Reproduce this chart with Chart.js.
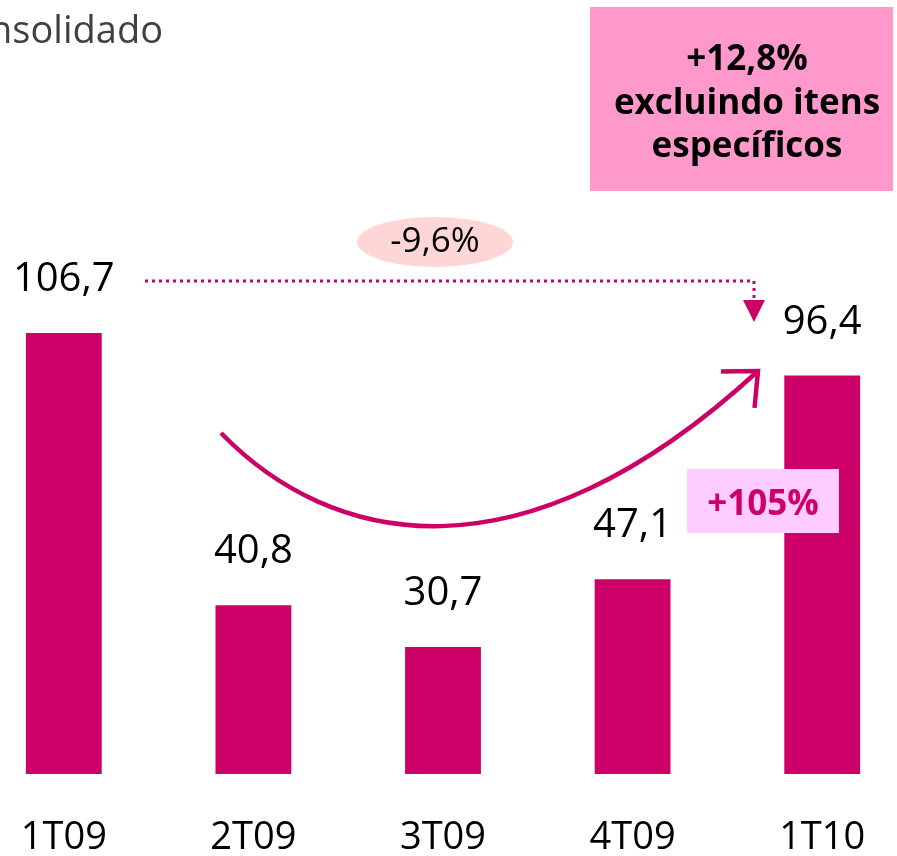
<!DOCTYPE html>
<html><head><meta charset="utf-8">
<script src="https://cdn.jsdelivr.net/npm/chart.js@4"></script>
<style>
html,body{margin:0;padding:0;background:#fff;overflow:hidden;width:897px;height:856px}
#wrap{position:absolute;left:-31px;top:0;width:948px;height:902px}
</style></head>
<body><div id="wrap"><canvas id="c" width="948" height="902"></canvas></div>
<script>
const categories = ['1T09', '2T09', '3T09', '4T09', '1T10'];
const values = [106.7, 40.8, 30.7, 47.1, 96.4];
const titleText = 'nsolidado';
const boxLines = ['+12,8%', 'excluindo itens', 'específicos'];
const changeYear = '-9,6%';
const changeQuarter = '+105%';

const OFF = 31; // canvas is shifted left by this many px
const MAGENTA = '#CC0066';

function fmt(v) { return v.toFixed(1).replace('.', ','); }

const annot = {
  id: 'annot',
  afterDatasetsDraw(chart) {
    const ctx = chart.ctx;
    ctx.save();
    ctx.translate(OFF, 0);
    // title
    ctx.fillStyle = '#404040';
    ctx.font = '38px "Open Sans"';
    ctx.textAlign = 'right';
    ctx.textBaseline = 'alphabetic';
    ctx.fillText(titleText, 163, 43);

    // top box
    ctx.fillStyle = '#FF99CC';
    ctx.fillRect(590, 7, 303, 184);
    ctx.fillStyle = '#000';
    ctx.font = 'bold 35px "Open Sans"';
    ctx.textAlign = 'center';
    const bl = [70, 114, 157];
    boxLines.forEach((t, i) => ctx.fillText(t, 747, bl[i]));

    // ellipse -9,6%
    ctx.fillStyle = '#FFD6D6';
    ctx.beginPath();
    ctx.ellipse(435, 242, 78, 25, 0, 0, Math.PI * 2);
    ctx.fill();
    ctx.fillStyle = '#000';
    ctx.font = '35px "Open Sans"';
    ctx.fillText(changeYear, 435, 252);

    // dotted connector
    ctx.strokeStyle = MAGENTA;
    ctx.lineWidth = 3;
    ctx.setLineDash([3, 4]);
    ctx.beginPath();
    ctx.moveTo(145, 281);
    ctx.lineTo(754, 281);
    ctx.lineTo(754, 300);
    ctx.stroke();
    ctx.setLineDash([]);
    ctx.fillStyle = MAGENTA;
    ctx.beginPath();
    ctx.moveTo(743, 300); ctx.lineTo(765, 300); ctx.lineTo(754, 322);
    ctx.closePath(); ctx.fill();

    // curve arrow
    const p0 = [221, 433], p1 = [330, 545], p2 = [520, 590], p3 = [758, 371];
    ctx.lineWidth = 4.5;
    ctx.strokeStyle = MAGENTA;
    ctx.beginPath();
    ctx.moveTo(p0[0], p0[1]);
    ctx.bezierCurveTo(p1[0], p1[1], p2[0], p2[1], p3[0], p3[1]);
    ctx.stroke();
    const back = Math.atan2(p2[1] - p3[1], p2[0] - p3[0]);
    const L = 37, a = 42 * Math.PI / 180;
    ctx.beginPath();
    ctx.moveTo(p3[0] + L * Math.cos(back - a), p3[1] + L * Math.sin(back - a));
    ctx.lineTo(p3[0], p3[1]);
    ctx.lineTo(p3[0] + L * Math.cos(back + a), p3[1] + L * Math.sin(back + a));
    ctx.lineJoin = 'miter';
    ctx.stroke();

    // +105% box
    ctx.fillStyle = '#FFCCFF';
    ctx.fillRect(687, 469, 152, 64);
    ctx.fillStyle = MAGENTA;
    ctx.font = 'bold 35px "Open Sans"';
    ctx.fillText(changeQuarter, 763, 515);
    ctx.restore();

    // value labels
    ctx.save();
    ctx.fillStyle = '#000';
    ctx.font = '40px "Open Sans"';
    ctx.textAlign = 'center';
    ctx.textBaseline = 'alphabetic';
    chart.getDatasetMeta(0).data.forEach((bar, i) => {
      ctx.fillText(fmt(values[i]), bar.x, bar.y - 42);
    });
    ctx.restore();
  }
};

new Chart(document.getElementById('c'), {
  type: 'bar',
  data: {
    labels: categories,
    datasets: [{
      data: values,
      backgroundColor: MAGENTA,
      borderWidth: 0,
      categoryPercentage: 1,
      barPercentage: 0.4
    }]
  },
  options: {
    responsive: false,
    animation: false,
    devicePixelRatio: 1,
    layout: { padding: { top: 30, bottom: 0, left: 0, right: 0 } },
    plugins: { legend: { display: false }, tooltip: { enabled: false } },
    scales: {
      x: {
        grid: { display: false, drawTicks: false },
        border: { display: false },
        ticks: {
          color: '#000',
          font: { family: '"Open Sans"', size: 38, lineHeight: 1 },
          padding: 45,
          maxRotation: 0,
          autoSkip: false
        }
      },
      y: { display: false, min: 0, max: 180 }
    }
  },
  plugins: [annot]
});
</script>
</body></html>
